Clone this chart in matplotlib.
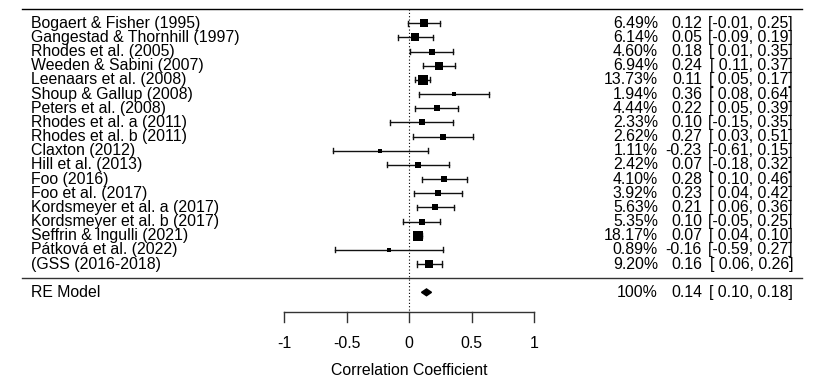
import numpy as np
import matplotlib
matplotlib.use("Agg")
import matplotlib.pyplot as plt
from matplotlib.patches import Polygon

plt.rcParams['font.family'] = ['Liberation Sans', 'DejaVu Sans']

studies = ["Bogaert & Fisher (1995)", "Gangestad & Thornhill (1997)",
           "Rhodes et al. (2005)", "Weeden & Sabini (2007)",
           "Leenaars et al. (2008)", "Shoup & Gallup (2008)",
           "Peters et al. (2008)", "Rhodes et al. a (2011)",
           "Rhodes et al. b (2011)", "Claxton (2012)", "Hill et al. (2013)",
           "Foo (2016)", "Foo et al. (2017)", "Kordsmeyer et al. a (2017)",
           "Kordsmeyer et al. b (2017)", "Seffrin & Ingulli (2021)",
           "Pátková et al. (2022)", "(GSS (2016-2018)"]
weights = [6.49, 6.14, 4.60, 6.94, 13.73, 1.94, 4.44, 2.33, 2.62, 1.11,
           2.42, 4.10, 3.92, 5.63, 5.35, 18.17, 0.89, 9.20]
est = [0.12, 0.05, 0.18, 0.24, 0.11, 0.36, 0.22, 0.10, 0.27, -0.23,
       0.07, 0.28, 0.23, 0.21, 0.10, 0.07, -0.16, 0.16]
lo = [-0.01, -0.09, 0.01, 0.11, 0.05, 0.08, 0.05, -0.15, 0.03, -0.61,
      -0.18, 0.10, 0.04, 0.06, -0.05, 0.04, -0.59, 0.06]
hi = [0.25, 0.19, 0.35, 0.37, 0.17, 0.64, 0.39, 0.35, 0.51, 0.15,
      0.32, 0.46, 0.42, 0.36, 0.25, 0.10, 0.27, 0.26]
re_est, re_lo, re_hi = 0.14, 0.10, 0.18
xticks = [-1, -0.5, 0, 0.5, 1]
xtick_labels = ["-1", "-0.5", "0", "0.5", "1"]

W, H = 823, 385
fig = plt.figure(figsize=(W / 100, H / 100), dpi=100)
ax = fig.add_axes([0, 0, 1, 1])
ax.axis('off')
# 125 px per unit, x=0 at pixel 409; rows 14.16 px apart, row 0 at pixel 23.3
ax.set_xlim(-409 / 125, (W - 409) / 125)
ax.set_ylim((H - 23.3) / 14.16, -23.3 / 14.16)

fs = 11.4
n = len(studies)
rows = np.arange(n)
re_row = n + 1


def px(p):
    # pixel column -> data x
    return (p - 409) / 125.0


def fmt_ci(a, b):
    left = "%.2f" % a if a < 0 else " %.2f" % a
    return "[" + left + ", %.2f]" % b


# header/footer lines
ax.plot([px(22), px(802)], [-1, -1], color='black', lw=1)
ax.plot([px(22), px(802)], [n, n], color='#333333', lw=1)
# reference line at 0
ax.plot([0, 0], [-1, 20.4], color='black', lw=0.8, ls=(0, (1, 2)))

sw = np.sqrt(weights)
size_px = 1.9 + 2.1 * sw
cap = 0.18
for i in rows:
    ax.plot([lo[i], hi[i]], [i, i], color='#111111', lw=1)
    ax.plot([lo[i], lo[i]], [i - cap, i + cap], color='#111111', lw=1)
    ax.plot([hi[i], hi[i]], [i - cap, i + cap], color='#111111', lw=1)
    ax.plot(est[i], i, marker='s', color='black', ms=size_px[i] * 0.72,
            mew=0)
    ax.text(px(31), i, studies[i], ha='left', va='center', fontsize=fs)
    ax.text(px(658), i, "%.2f%%" % weights[i], ha='right', va='center',
            fontsize=fs)
    ax.text(px(702), i, "%.2f" % est[i], ha='right', va='center', fontsize=fs)
    ax.text(px(793), i, fmt_ci(lo[i], hi[i]), ha='right', va='center',
            fontsize=fs)

# RE model diamond
dh = 0.24
ax.add_patch(Polygon([[re_lo, re_row], [re_est, re_row - dh],
                      [re_hi, re_row], [re_est, re_row + dh]],
                     closed=True, color='black'))
ax.text(px(31), re_row, "RE Model", ha='left', va='center', fontsize=fs)
ax.text(px(658), re_row, "100%", ha='right', va='center', fontsize=fs)
ax.text(px(702), re_row, "%.2f" % re_est, ha='right', va='center', fontsize=fs)
ax.text(px(793), re_row, fmt_ci(re_lo, re_hi), ha='right', va='center',
        fontsize=fs)

# x axis
axis_y = 20.42
ax.plot([xticks[0], xticks[-1]], [axis_y, axis_y], color='#333333', lw=1)
for t, lab in zip(xticks, xtick_labels):
    ax.plot([t, t], [axis_y, axis_y + 0.65], color='#333333', lw=1)
    ax.text(t, 22.62, lab, ha='center', va='center', fontsize=fs)
ax.text(0, 24.55, "Correlation Coefficient", ha='center', va='center',
        fontsize=fs)

fig.savefig("out.png", dpi=100)
